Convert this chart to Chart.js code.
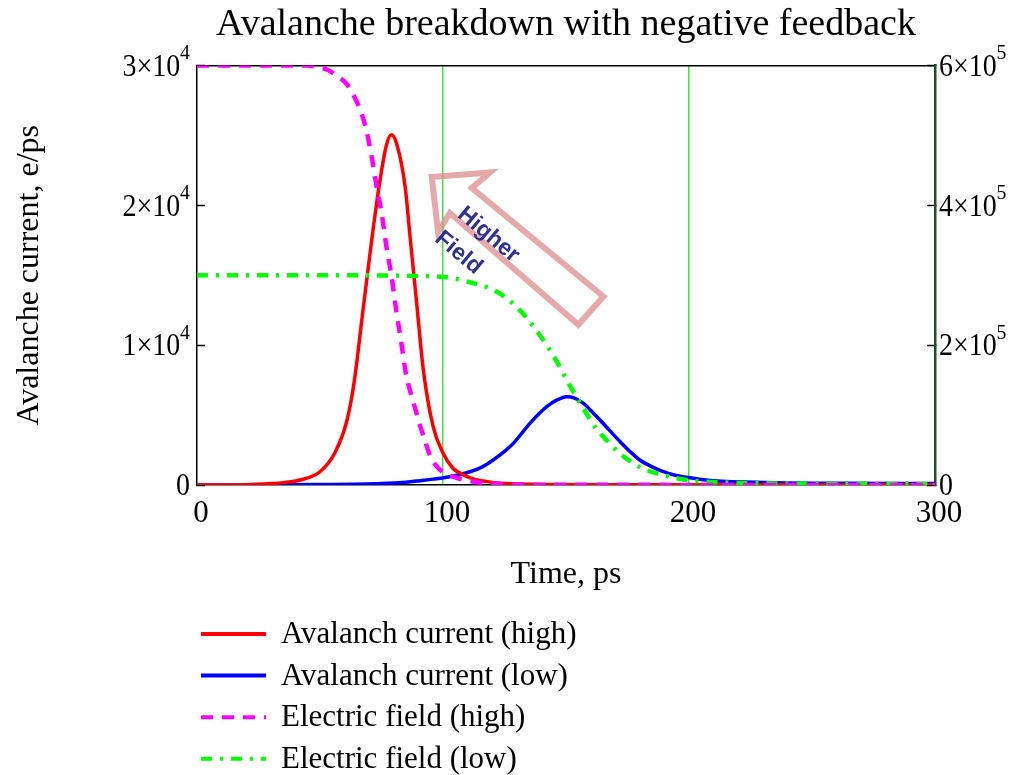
<!DOCTYPE html>
<html>
<head>
<meta charset="utf-8">
<script src="https://cdn.jsdelivr.net/npm/chart.js@4.4.0/dist/chart.umd.min.js"></script>
<style>
  html, body { margin: 0; padding: 0; background: #fff; }
  #wrap { width: 1011px; height: 775px; position: relative; }
</style>
</head>
<body>
<div id="wrap"><canvas id="chart"></canvas></div>
<script>
const SERIF = "'Liberation Serif', 'Times New Roman', serif";

// Avalanche current, high field (left axis, e/ps)
const tHighCurrent = [0, 20, 30, 35, 42, 50, 56, 61, 64, 67, 70, 74, 77, 79, 81, 84.6, 86.6, 89.3, 92, 96, 100, 104, 107, 112, 118, 125, 140, 170, 300];
const highCurrent  = [0, 20, 100, 170, 360, 950, 2290, 4650, 7500, 11800, 16100, 21350, 24300, 25050, 24500, 21350, 17780, 13000, 8230, 4170, 2290, 1200, 850, 450, 240, 100, 40, 10, 0];

// Avalanche current, low field (left axis, e/ps)
const tLowCurrent = [0, 50, 75, 85, 90.7, 96, 101.5, 106, 111, 116, 120.4, 125, 128.6, 132, 135.4, 139, 142.2, 146, 150.3, 153, 157, 160, 163.8, 168, 172, 176, 180, 185, 189.6, 194, 199, 205, 210, 230, 260, 300];
const lowCurrent  = [0, 30, 100, 200, 310, 420, 550, 720, 950, 1300, 1790, 2400, 2980, 3700, 4420, 5100, 5610, 6050, 6320, 6250, 5850, 5350, 4650, 3850, 3100, 2400, 1790, 1300, 950, 720, 550, 400, 310, 180, 120, 100];

// Electric field, high (right axis)
const tHighField = [0, 45, 50, 53, 57, 61, 64, 66, 68.3, 71, 73, 75, 77, 79, 81, 83, 85, 88, 90, 92.5, 95, 100, 104, 112, 120, 140, 300];
const highField  = [600000, 600000, 597000, 594000, 585000, 573000, 555000, 540000, 515000, 470000, 427000, 390000, 341000, 300000, 250000, 205000, 158000, 118000, 93000, 65000, 40000, 18000, 12000, 5000, 2000, 500, 0];

// Electric field, low (right axis)
const tLowField = [0, 60, 90, 99, 105, 111, 118, 123, 129, 134, 139, 143.5, 147, 150.3, 157, 162, 166.5, 172, 177.4, 183, 189.6, 196, 202, 215, 240, 300];
const lowField  = [300000, 300000, 299000, 298000, 295000, 290000, 283000, 274000, 258000, 239000, 216000, 193000, 172000, 150000, 110000, 82000, 64000, 45000, 31000, 21000, 14000, 9000, 6000, 3500, 2000, 1500];

const seriesLabels = ['Avalanch current (high)', 'Avalanch current (low)', 'Electric field (high)', 'Electric field (low)'];
const markerTimes = [100, 200];

// annotation arrow outline, in (time, current) units
const arrowT = [95.4, 119.1, 111.7, 165.2, 155, 102.8, 98];
const arrowV = [22030, 22360, 21240, 13480, 11460, 19450, 18110];

const pts = (xs, ys) => xs.map((x, i) => ({x: x, y: ys[i]}));

// tick label like 2x10^4 with a raised exponent, slightly condensed like the original
function drawSci(ctx, value, exp, x, y, alignRight) {
  const squeeze = 0.9;
  const main = value === 0 ? '0' : (value / Math.pow(10, exp)) + '×10';
  const sup = value === 0 ? '' : String(exp);
  ctx.font = '31px ' + SERIF;
  const w1 = ctx.measureText(main).width * squeeze;
  ctx.font = '22px ' + SERIF;
  const w2 = ctx.measureText(sup).width * squeeze;
  const x0 = alignRight ? x - w1 - w2 : x;
  ctx.save();
  ctx.translate(x0, y);
  ctx.scale(squeeze, 1);
  ctx.textAlign = 'left';
  ctx.textBaseline = 'middle';
  ctx.font = '31px ' + SERIF;
  ctx.fillText(main, 0, 2);
  ctx.font = '22px ' + SERIF;
  ctx.fillText(sup, w1 / squeeze, -12);
  ctx.restore();
}

const sciTicksPlugin = {
  id: 'sciTicks',
  afterDraw(chart) {
    const ctx = chart.ctx;
    const {y, y2} = chart.scales;
    ctx.save();
    ctx.fillStyle = '#000';
    y.ticks.forEach(t => drawSci(ctx, t.value, 4, y.right - 7, y.getPixelForValue(t.value), true));
    y2.ticks.forEach(t => drawSci(ctx, t.value, 5, y2.left + 4, y2.getPixelForValue(t.value), false));
    ctx.restore();
  }
};

const legendPlugin = {
  id: 'sideLegend',
  afterDraw(chart) {
    const ctx = chart.ctx;
    ctx.save();
    chart.data.datasets.forEach((ds, i) => {
      const y = 634 + i * 41.6;
      ctx.beginPath();
      ctx.setLineDash(ds.borderDash || []);
      ctx.lineWidth = 4;
      ctx.strokeStyle = ds.borderColor;
      ctx.moveTo(201, y);
      ctx.lineTo(266, y);
      ctx.stroke();
      ctx.setLineDash([]);
      ctx.fillStyle = '#000';
      ctx.font = '31px ' + SERIF;
      ctx.textBaseline = 'middle';
      ctx.fillText(ds.label, 281, y + 1);
    });
    ctx.restore();
  }
};

const arrowPlugin = {
  id: 'fieldArrow',
  afterDatasetsDraw(chart) {
    const {ctx, scales: {x, y}} = chart;
    ctx.save();
    ctx.beginPath();
    arrowT.forEach((t, i) => {
      const px = x.getPixelForValue(t), py = y.getPixelForValue(arrowV[i]);
      if (i === 0) ctx.moveTo(px, py); else ctx.lineTo(px, py);
    });
    ctx.closePath();
    ctx.lineWidth = 6;
    ctx.strokeStyle = 'rgba(222,140,140,0.75)';
    ctx.stroke();

    ctx.fillStyle = '#2E3192';
    ctx.font = 'bold 23px "Liberation Sans", Arial, sans-serif';
    ctx.textAlign = 'center';
    ctx.textBaseline = 'middle';
    [['Higher', 118.5, 17900], ['Field', 106.3, 16600]].forEach(([txt, t, v]) => {
      ctx.save();
      ctx.translate(x.getPixelForValue(t), y.getPixelForValue(v));
      ctx.rotate(40 * Math.PI / 180);
      ctx.fillText(txt, 0, 0);
      ctx.restore();
    });
    ctx.restore();
  }
};

new Chart(document.getElementById('chart'), {
  type: 'line',
  data: {
    datasets: [
      {label: seriesLabels[0], data: pts(tHighCurrent, highCurrent), yAxisID: 'y', borderColor: '#FF0000', borderWidth: 3.5, order: 1},
      {label: seriesLabels[1], data: pts(tLowCurrent, lowCurrent), yAxisID: 'y', borderColor: '#0000FF', borderWidth: 3.5, order: 1},
      {label: seriesLabels[2], data: pts(tHighField, highField), yAxisID: 'y2', borderColor: '#FF00FF', borderWidth: 4.5, borderDash: [12, 9], order: 0},
      {label: seriesLabels[3], data: pts(tLowField, lowField), yAxisID: 'y2', borderColor: '#00FF00', borderWidth: 4.5, borderDash: [11, 8, 3, 8], order: 0}
    ]
  },
  options: {
    responsive: true,
    maintainAspectRatio: false,
    animation: false,
    devicePixelRatio: 1,
    layout: {padding: {left: 0, right: 0, top: 0, bottom: 181}},
    elements: {
      point: {radius: 0},
      line: {fill: false, cubicInterpolationMode: 'monotone', borderCapStyle: 'butt'}
    },
    plugins: {
      legend: {display: false},
      tooltip: {enabled: false},
      title: {
        display: true,
        text: 'Avalanche breakdown with negative feedback',
        fullSize: false,
        color: '#000',
        font: {family: SERIF, size: 38, weight: 'normal'},
        padding: {top: 2, bottom: 18}
      }
    },
    scales: {
      x: {
        type: 'linear', position: 'bottom', min: 0, max: 300,
        ticks: {stepSize: 100, color: '#000', font: {family: SERIF, size: 31}, padding: 10, labelOffset: 4, maxRotation: 0},
        grid: {
          drawTicks: false,
          lineWidth: 1.5,
          color: c => (c.tick && markerTimes.includes(c.tick.value)) ? '#44DD44' : 'rgba(0,0,0,0)'
        },
        border: {color: '#000', width: 1.5},
        title: {display: true, text: 'Time, ps', color: '#000', font: {family: SERIF, size: 32}, padding: {top: 0, bottom: 0}},
        afterFit: s => { s.height = 109; }
      },
      x2: {
        type: 'linear', position: 'top', min: 0, max: 300,
        ticks: {display: false},
        grid: {drawOnChartArea: false, drawTicks: false},
        border: {color: '#000', width: 1.5},
        afterFit: s => { s.height = 0; }
      },
      y: {
        type: 'linear', position: 'left', min: 0, max: 30000,
        ticks: {stepSize: 10000, callback: () => ''},
        grid: {drawOnChartArea: false, drawTicks: true, tickLength: -8, color: '#000', tickColor: '#000', tickWidth: 1.5},
        border: {color: '#000', width: 1.5},
        title: {display: true, text: 'Avalanche current, e/ps', color: '#000', font: {family: SERIF, size: 32}, padding: {top: 10, bottom: 0}},
        afterFit: s => { s.width = 197; }
      },
      y2: {
        type: 'linear', position: 'right', min: 0, max: 600000,
        ticks: {stepSize: 200000, callback: () => ''},
        grid: {drawOnChartArea: false, drawTicks: true, tickLength: -8, color: '#000', tickColor: '#000', tickWidth: 1.5},
        border: {color: '#1E4F1E', width: 2.5},
        afterFit: s => { s.width = 76; }
      }
    }
  },
  plugins: [legendPlugin, arrowPlugin, sciTicksPlugin]
});
</script>
</body>
</html>
